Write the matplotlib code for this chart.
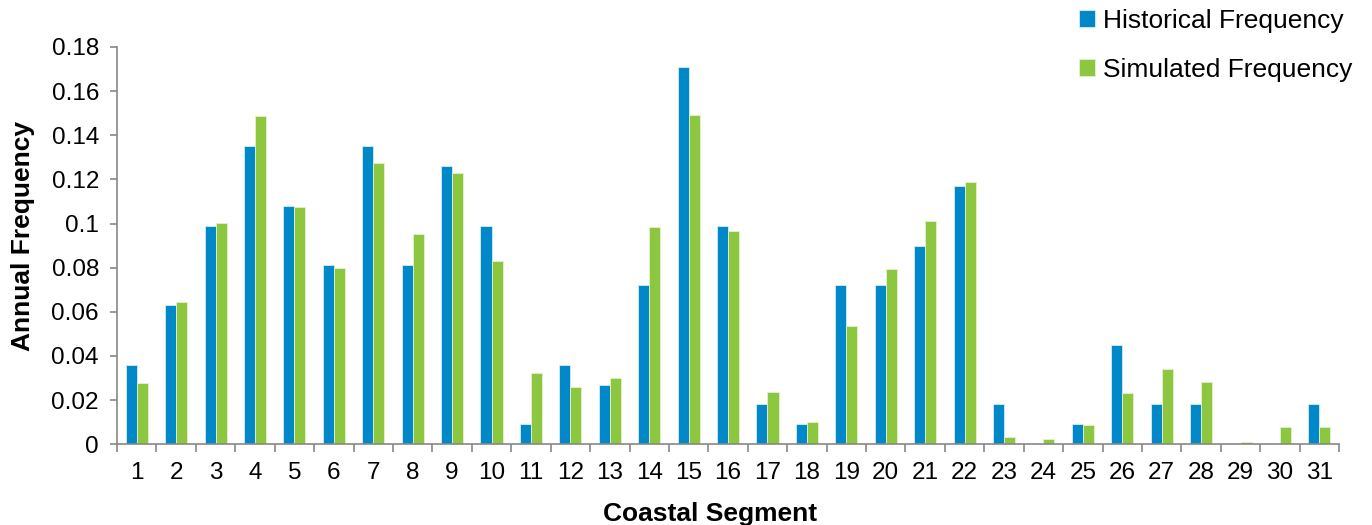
import numpy as np
import matplotlib.pyplot as plt

plt.rcParams['font.family'] = ['Liberation Sans', 'DejaVu Sans']

# -----------------------------
# Data
# -----------------------------
segments = list(range(1, 32))

historical = [0.036, 0.063, 0.099, 0.135, 0.108, 0.081, 0.135, 0.081, 0.126, 0.099,
              0.009, 0.036, 0.027, 0.072, 0.171, 0.099, 0.018, 0.009, 0.072, 0.072,
              0.090, 0.117, 0.018, 0.0, 0.009, 0.045, 0.018, 0.018, 0.0, 0.0, 0.018]

simulated = [0.0278, 0.0645, 0.1001, 0.1487, 0.1075, 0.0798, 0.1273, 0.0952, 0.1229, 0.0831,
             0.0323, 0.0257, 0.0302, 0.0985, 0.1490, 0.0964, 0.0237, 0.0101, 0.0536, 0.0793,
             0.1010, 0.1188, 0.0032, 0.0023, 0.0089, 0.0230, 0.0340, 0.0283, 0.0009, 0.0077, 0.0077]

y_ticks = [0, 0.02, 0.04, 0.06, 0.08, 0.1, 0.12, 0.14, 0.16, 0.18]
y_labels = ['0', '0.02', '0.04', '0.06', '0.08', '0.1', '0.12', '0.14', '0.16', '0.18']

# -----------------------------
# Plot
# -----------------------------
fig = plt.figure(figsize=(13.72, 5.25), dpi=100)
ax = fig.add_axes([0.0853, 0.154, 0.8907, 0.7565])

x = np.array(segments)
w = 0.28
blue = '#0088c9'
green = '#8dc63f'

ax.bar(x - w / 2, historical, width=w, color=blue, edgecolor='#d6eef8',
       linewidth=0.6, label='Historical Frequency')
ax.bar(x + w / 2, simulated, width=w, color=green, edgecolor='#e4f2d0',
       linewidth=0.6, label='Simulated Frequency')

ax.set_xlim(0.5, 31.5)
ax.set_ylim(0, 0.18)

# tick marks between categories, labels at category centres
ax.set_xticks(np.arange(0.5, 32, 1))
ax.set_xticklabels([])
ax.set_xticks(x, minor=True)
ax.set_xticklabels([str(s) for s in segments], minor=True, fontsize=17.5)
ax.tick_params(axis='x', which='major', length=6, width=1.2, color='#888888', direction='out')
ax.tick_params(axis='x', which='minor', length=0, pad=13)

ax.set_yticks(y_ticks)
ax.set_yticklabels(y_labels, fontsize=17.5)
ax.tick_params(axis='y', length=5, width=1.2, color='#888888', direction='out', pad=8)

for side in ['top', 'right']:
    ax.spines[side].set_visible(False)
for side in ['left', 'bottom']:
    ax.spines[side].set_color('#888888')
    ax.spines[side].set_linewidth(1.2)

ax.set_xlabel('Coastal Segment', fontsize=19, fontweight='bold')
ax.set_ylabel('Annual Frequency', fontsize=19, fontweight='bold')
ax.xaxis.set_label_coords(0.485, -0.145)
ax.yaxis.set_label_coords(-0.067, 0.524)

ax.legend(loc='upper right', bbox_to_anchor=(1352 / 1372, 1 - 9 / 525),
          bbox_transform=fig.transFigure, frameon=False,
          fontsize=19, handlelength=0.6, handleheight=0.6, handletextpad=0.3,
          labelspacing=0.95, borderaxespad=0, borderpad=0)

fig.savefig('out.png', dpi=100)
